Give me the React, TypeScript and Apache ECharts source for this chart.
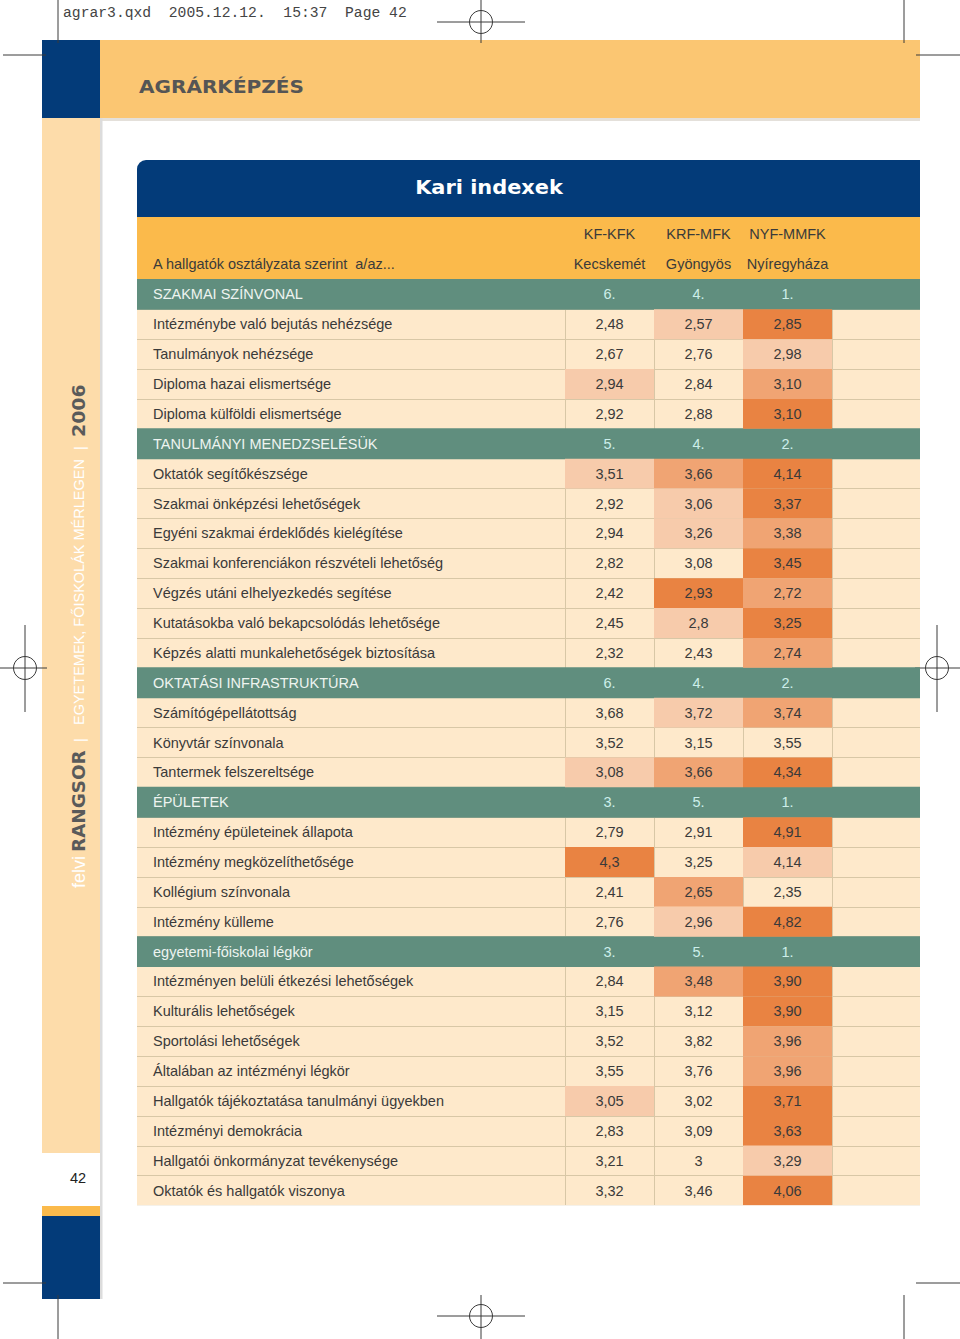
import React, { useEffect, useRef } from 'react';
import * as echarts from 'echarts';

// ---------- DATA ----------
const faculties = ['KF-KFK', 'KRF-MFK', 'NYF-MMFK'];
const cities = ['Kecskemét', 'Gyöngyös', 'Nyíregyháza'];
const headerLabel = 'A hallgatók osztályzata szerint  a/az...';

const sectionNames = [
  'SZAKMAI SZÍNVONAL',
  'TANULMÁNYI MENEDZSELÉSÜK',
  'OKTATÁSI INFRASTRUKTÚRA',
  'ÉPÜLETEK',
  'egyetemi-főiskolai légkör',
];
const sectionRanks = [
  ['6.', '4.', '1.'],
  ['5.', '4.', '2.'],
  ['6.', '4.', '2.'],
  ['3.', '5.', '1.'],
  ['3.', '5.', '1.'],
];

const szakmaiLabels = [
  'Intézménybe való bejutás nehézsége',
  'Tanulmányok nehézsége',
  'Diploma hazai elismertsége',
  'Diploma külföldi elismertsége',
];
const szakmaiValues = [
  ['2,48', '2,57', '2,85'],
  ['2,67', '2,76', '2,98'],
  ['2,94', '2,84', '3,10'],
  ['2,92', '2,88', '3,10'],
];
const szakmaiLevels = [
  [0, 1, 3],
  [0, 0, 1],
  [1, 0, 2],
  [0, 0, 3],
];

const menedzsLabels = [
  'Oktatók segítőkészsége',
  'Szakmai önképzési lehetőségek',
  'Egyéni szakmai érdeklődés kielégítése',
  'Szakmai konferenciákon részvételi lehetőség',
  'Végzés utáni elhelyezkedés segítése',
  'Kutatásokba való bekapcsolódás lehetősége',
  'Képzés alatti munkalehetőségek biztosítása',
];
const menedzsValues = [
  ['3,51', '3,66', '4,14'],
  ['2,92', '3,06', '3,37'],
  ['2,94', '3,26', '3,38'],
  ['2,82', '3,08', '3,45'],
  ['2,42', '2,93', '2,72'],
  ['2,45', '2,8', '3,25'],
  ['2,32', '2,43', '2,74'],
];
const menedzsLevels = [
  [1, 2, 3],
  [0, 1, 3],
  [0, 1, 2],
  [0, 0, 3],
  [0, 3, 2],
  [0, 1, 3],
  [0, 0, 2],
];

const infraLabels = ['Számítógépellátottság', 'Könyvtár színvonala', 'Tantermek felszereltsége'];
const infraValues = [
  ['3,68', '3,72', '3,74'],
  ['3,52', '3,15', '3,55'],
  ['3,08', '3,66', '4,34'],
];
const infraLevels = [
  [0, 1, 2],
  [0, 0, 0],
  [1, 2, 3],
];

const epuletLabels = [
  'Intézmény épületeinek állapota',
  'Intézmény megközelíthetősége',
  'Kollégium színvonala',
  'Intézmény külleme',
];
const epuletValues = [
  ['2,79', '2,91', '4,91'],
  ['4,3', '3,25', '4,14'],
  ['2,41', '2,65', '2,35'],
  ['2,76', '2,96', '4,82'],
];
const epuletLevels = [
  [0, 0, 3],
  [3, 0, 1],
  [0, 2, 0],
  [0, 1, 3],
];

const legkorLabels = [
  'Intézményen belüli étkezési lehetőségek',
  'Kulturális lehetőségek',
  'Sportolási lehetőségek',
  'Általában az intézményi légkör',
  'Hallgatók tájékoztatása tanulmányi ügyekben',
  'Intézményi demokrácia',
  'Hallgatói önkormányzat tevékenysége',
  'Oktatók és hallgatók viszonya',
];
const legkorValues = [
  ['2,84', '3,48', '3,90'],
  ['3,15', '3,12', '3,90'],
  ['3,52', '3,82', '3,96'],
  ['3,55', '3,76', '3,96'],
  ['3,05', '3,02', '3,71'],
  ['2,83', '3,09', '3,63'],
  ['3,21', '3', '3,29'],
  ['3,32', '3,46', '4,06'],
];
const legkorLevels = [
  [0, 2, 3],
  [0, 0, 3],
  [0, 0, 2],
  [0, 0, 2],
  [1, 0, 3],
  [0, 0, 3],
  [0, 0, 1],
  [0, 0, 3],
];

// ---------- STYLE ----------
const FONT = '"Liberation Sans", Arial, sans-serif';
const BLUE = '#033b79';
const TOP_ORANGE = '#fbc672';
const HEAD_ORANGE = '#fbba4b';
const SIDEBAR = '#fddcaa';
const BASE = '#fee9cb';
const TEAL = '#608e7e';
const GRIDLINE = '#d8c7a6';
const TEXT = '#3a3a3a';
const levelColors = [null, '#f7cbab', '#f0a473', '#e98342'];

// ---------- BUILD ROWS ----------
const sections = [
  { labels: szakmaiLabels, values: szakmaiValues, levels: szakmaiLevels },
  { labels: menedzsLabels, values: menedzsValues, levels: menedzsLevels },
  { labels: infraLabels, values: infraValues, levels: infraLevels },
  { labels: epuletLabels, values: epuletValues, levels: epuletLevels },
  { labels: legkorLabels, values: legkorValues, levels: legkorLevels },
];

const rowLabels: string[] = [];
const rowIsSection: boolean[] = [];
const cellData: number[][] = [];
const cellText: string[] = [];
const cellLevel: number[] = [];
const cellSection: boolean[] = [];
const sectionRows: number[][] = [];

sections.forEach((s, si) => {
  const r = rowLabels.length;
  rowLabels.push(sectionNames[si]);
  rowIsSection.push(true);
  sectionRows.push([0.5, r]);
  sectionRanks[si].forEach((t, c) => {
    cellData.push([c, r, parseFloat(t)]);
    cellText.push(t);
    cellLevel.push(0);
    cellSection.push(true);
  });
  s.labels.forEach((lab, i) => {
    const rr = rowLabels.length;
    rowLabels.push(lab);
    rowIsSection.push(false);
    s.values[i].forEach((v, c) => {
      cellData.push([c, rr, parseFloat(v.replace(',', '.'))]);
      cellText.push(v);
      cellLevel.push(s.levels[i][c]);
      cellSection.push(false);
    });
  });
});

// ---------- DECORATIONS ----------
const MARK = '#3a3a3a';
function cropLine(x1: number, y1: number, x2: number, y2: number) {
  return { type: 'line', silent: true, shape: { x1, y1, x2, y2 }, style: { stroke: MARK, lineWidth: 1 } };
}
function target(cx: number, cy: number, hx1: number, hx2: number, vy1: number, vy2: number) {
  return [
    { type: 'circle', silent: true, shape: { cx, cy, r: 11.5 }, style: { fill: 'none', stroke: MARK, lineWidth: 1 } },
    cropLine(hx1, cy, hx2, cy),
    cropLine(cx, vy1, cx, vy2),
  ];
}

const graphics: any[] = [
  // top band
  { type: 'rect', shape: { x: 100, y: 118, width: 820, height: 3 }, style: { fill: '#e4e0da' } },
  { type: 'rect', shape: { x: 100, y: 40, width: 820, height: 78 }, style: { fill: TOP_ORANGE } },
  { type: 'rect', shape: { x: 42, y: 40, width: 58, height: 78 }, style: { fill: BLUE } },
  // sidebar
  { type: 'rect', shape: { x: 100, y: 118, width: 2.5, height: 1181 }, style: { fill: '#dcdcdc' } },
  { type: 'rect', shape: { x: 42, y: 118, width: 58, height: 1035 }, style: { fill: SIDEBAR } },
  { type: 'rect', shape: { x: 42, y: 1206, width: 58, height: 10 }, style: { fill: HEAD_ORANGE } },
  { type: 'rect', shape: { x: 42, y: 1216, width: 58, height: 83 }, style: { fill: BLUE } },
  {
    type: 'text', x: 78, y: 1178,
    style: { text: '42', fill: '#222', font: `14.5px ${FONT}`, align: 'center', verticalAlign: 'middle' },
  },
  // sidebar rotated text
  {
    type: 'text', x: 79, y: 888, rotation: Math.PI / 2,
    style: { text: 'felvi', fill: '#ffffff', font: `18px ${FONT}`, align: 'left', verticalAlign: 'middle' },
  },
  {
    type: 'text', x: 79, y: 852, rotation: Math.PI / 2, scaleX: 1.08,
    style: { text: 'RANGSOR', fill: '#5a5a5a', font: `bold 17px "DejaVu Sans", sans-serif`, align: 'left', verticalAlign: 'middle' },
  },
  {
    type: 'text', x: 79, y: 740, rotation: Math.PI / 2,
    style: { text: '|', fill: '#ffffff', font: `15px ${FONT}`, align: 'center', verticalAlign: 'middle' },
  },
  {
    type: 'text', x: 79, y: 725, rotation: Math.PI / 2,
    style: { text: 'EGYETEMEK, FŐISKOLÁK MÉRLEGEN', fill: '#ffffff', font: `14.5px ${FONT}`, align: 'left', verticalAlign: 'middle' },
  },
  {
    type: 'text', x: 79, y: 448, rotation: Math.PI / 2,
    style: { text: '|', fill: '#ffffff', font: `15px ${FONT}`, align: 'center', verticalAlign: 'middle' },
  },
  {
    type: 'text', x: 79, y: 437, rotation: Math.PI / 2, scaleX: 1.05,
    style: { text: '2006', fill: '#5a5a5a', font: `bold 18px "DejaVu Sans", sans-serif`, align: 'left', verticalAlign: 'middle' },
  },
  // page title
  {
    type: 'text', x: 139, y: 87, scaleX: 1.18,
    style: { text: 'AGRÁRKÉPZÉS', fill: '#555555', font: `bold 17px "DejaVu Sans", sans-serif`, align: 'left', verticalAlign: 'middle' },
  },
  // file slug
  {
    type: 'text', x: 63, y: 13,
    style: {
      text: 'agrar3.qxd\u00a0\u00a02005.12.12.\u00a0\u00a015:37\u00a0\u00a0Page 42',
      fill: '#444', font: `14.7px "Liberation Mono", "DejaVu Sans Mono", monospace`, align: 'left', verticalAlign: 'middle',
    },
  },
  // table title band + header band
  { type: 'rect', shape: { x: 137, y: 160, width: 783, height: 57.5, r: [9, 0, 0, 0] }, style: { fill: BLUE } },
  {
    type: 'text', x: 489, y: 187, scaleX: 1.1,
    style: { text: 'Kari indexek', fill: '#ffffff', font: `bold 19px "DejaVu Sans", sans-serif`, align: 'center', verticalAlign: 'middle' },
  },
  { type: 'rect', shape: { x: 137, y: 217, width: 783, height: 63 }, style: { fill: HEAD_ORANGE } },
  {
    type: 'text', x: 153, y: 264,
    style: { text: headerLabel, fill: TEXT, font: `14.5px ${FONT}`, align: 'left', verticalAlign: 'middle' },
  },
  // mask the closing rule under the table body
  { type: 'rect', z: 50, silent: true, shape: { x: 130, y: 1205.2, width: 800, height: 3 }, style: { fill: '#ffffff' } },
  // crop marks
  cropLine(58, 0, 58, 43),
  cropLine(3, 55, 46, 55),
  cropLine(904, 0, 904, 43),
  cropLine(916, 55, 960, 55),
  cropLine(58, 1295, 58, 1339),
  cropLine(3, 1283, 46, 1283),
  cropLine(904, 1295, 904, 1339),
  cropLine(916, 1283, 960, 1283),
  ...target(481, 22, 437, 525, 0, 43),
  ...target(481, 1316, 437, 525, 1295, 1339),
  ...target(25, 668, 0, 47, 625, 712),
  ...target(937, 668, 915, 960, 625, 712),
];

const GRID_TOP = 279.5;
const GRID_H = 926;

export default function App() {
  const ref = useRef<HTMLDivElement>(null);
  useEffect(() => {
    if (!ref.current) return;
    const chart = echarts.init(ref.current, null, { renderer: 'svg' });
    chart.setOption({
      animation: false,
      backgroundColor: '#ffffff',
      graphic: { elements: graphics },
      grid: [
        { left: 565, width: 267, top: GRID_TOP, height: GRID_H, containLabel: false },
        {
          left: 137, width: 783, top: GRID_TOP, height: GRID_H, show: true,
          backgroundColor: BASE, borderWidth: 0, containLabel: false,
        },
      ],
      xAxis: [
        {
          type: 'category', gridIndex: 0, data: faculties, position: 'top',
          axisLine: { show: false }, axisTick: { show: false },
          axisLabel: {
            interval: 0, margin: 1, lineHeight: 30, fontSize: 14.5, fontFamily: FONT, color: TEXT,
            formatter: (v: string, i: number) => `${v}\n${cities[i]}`,
          },
          splitLine: { show: true, lineStyle: { color: GRIDLINE, width: 1 } },
        },
        { type: 'value', gridIndex: 1, min: 0, max: 1, show: false },
      ],
      yAxis: [
        {
          type: 'category', gridIndex: 0, data: rowLabels, inverse: true, z: 10,
          axisLine: { show: false }, axisTick: { show: false }, splitLine: { show: false },
          axisLabel: {
            interval: 0, align: 'left', margin: 412, fontSize: 14.5, fontFamily: FONT,
            color: (_v: string, i: number) => (rowIsSection[i] ? '#eef4f0' : TEXT),
          },
        },
        {
          type: 'category', gridIndex: 1, data: rowLabels, inverse: true,
          axisLine: { show: false }, axisTick: { show: false }, axisLabel: { show: false },
          splitLine: { show: true, lineStyle: { color: GRIDLINE, width: 1 } },
        },
      ],
      series: [
        {
          type: 'custom', xAxisIndex: 1, yAxisIndex: 1, silent: true, z: 2,
          data: sectionRows,
          renderItem: (params: any, api: any) => {
            const cs = params.coordSys;
            const p = api.coord([api.value(0), api.value(1)]);
            const h = api.size([0, 1])[1];
            return {
              type: 'rect',
              shape: { x: cs.x, y: p[1] - h / 2 - 0.5, width: cs.width, height: h + 1 },
              style: { fill: TEAL },
            };
          },
        },
        {
          type: 'custom', xAxisIndex: 0, yAxisIndex: 0, silent: true, z: 3,
          data: cellData,
          renderItem: (params: any, api: any) => {
            const i = params.dataIndex;
            const p = api.coord([api.value(0), api.value(1)]);
            const s = api.size([1, 1]);
            const children: any[] = [];
            const lv = cellLevel[i];
            if (lv > 0) {
              children.push({
                type: 'rect',
                shape: { x: p[0] - s[0] / 2, y: p[1] - s[1] / 2, width: s[0], height: s[1] },
                style: { fill: levelColors[lv] },
              });
            }
            children.push({
              type: 'text', x: p[0], y: p[1],
              style: {
                text: cellText[i], fill: cellSection[i] ? '#cdeeea' : TEXT,
                fontSize: 14.5, fontFamily: FONT, align: 'center', verticalAlign: 'middle',
              },
            });
            return { type: 'group', children };
          },
        },
      ],
    });
    return () => chart.dispose();
  }, []);
  return <div ref={ref} style={{ position: 'absolute', left: 0, top: 0, width: 960, height: 1339 }} />;
}
